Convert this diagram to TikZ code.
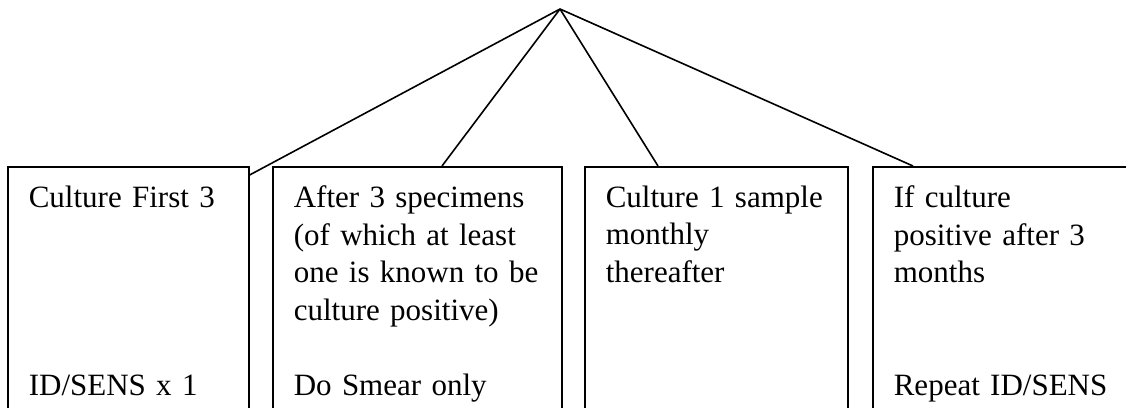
\documentclass[tikz,border=0pt]{standalone}
\usepackage{fontspec}
\setmainfont{Liberation Serif}
\usepackage{tikz}

\begin{document}
\begin{tikzpicture}[x=1pt,y=-1pt,line width=1.6pt,
  box/.style={draw,anchor=north west,align=left,inner xsep=21pt,inner ysep=19pt,
    font=\fontsize{31}{37.6}\selectfont}]
\useasboundingbox (0,0) rectangle (1126,407);
\clip (0,0) rectangle (1126,407);
\coordinate (apex) at (560,9);
\node[box,text width=199pt] (b1) at (7,166)
  {Culture First 3\\~\\~\\~\\~\\ID/SENS x 1};
\node[box,text width=247pt] (b2) at (272,166)
  {\mbox{After 3 specimens}\\\mbox{(of which at least}\\\mbox{one is known to be}\\\mbox{culture positive)}\\~\\Do Smear only};
\node[box,text width=221pt] (b3) at (584,166)
  {\mbox{Culture 1 sample}\\monthly\\thereafter\\~\\~\\~};
\node[box,text width=246pt] (b4) at (872,166)
  {If culture\\\mbox{positive after 3}\\months\\~\\~\\\mbox{Repeat ID/SENS}};
\draw (apex) -- ([yshift=-9pt]b1.north east);
\draw (apex) -- ([xshift=170pt]b2.north west);
\draw (apex) -- ([xshift=74pt]b3.north west);
\draw (apex) -- ([xshift=41pt]b4.north west);
\end{tikzpicture}
\end{document}
